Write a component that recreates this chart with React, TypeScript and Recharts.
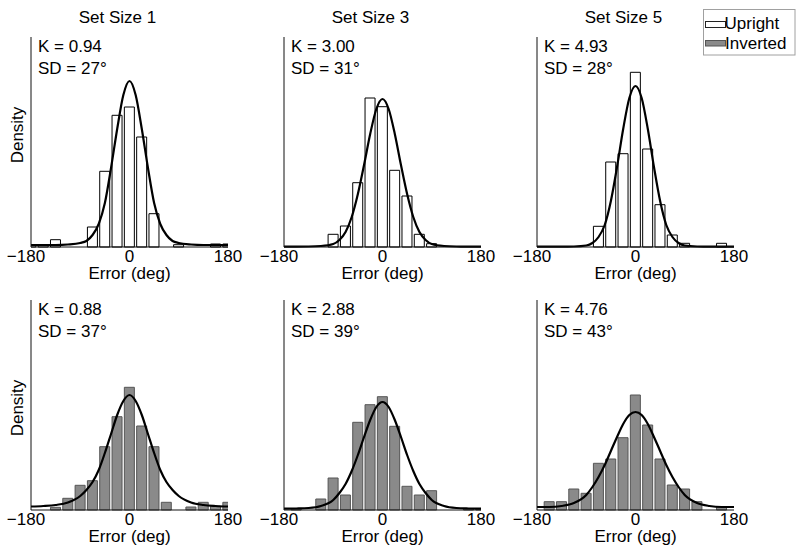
import React from 'react';
import { ComposedChart, Bar, Line, XAxis, YAxis } from 'recharts';

// bin centres of the error histograms (deg)
const BIN_CENTERS = [-180, -157.5, -135, -112.5, -90, -67.5, -45, -22.5, 0, 22.5, 45, 67.5, 90, 112.5, 135, 157.5, 180];

// histogram densities
const UPRIGHT_SS1 = [0.00015, 0.00015, 0.00073, 0, 0, 0.002, 0.00757, 0.01317, 0.014, 0.011, 0.00333, 0, 0.00023, 0, 0, 0.0003, 0.0003];
const UPRIGHT_SS3 = [0, 0, 0, 0, 0.00127, 0.0021, 0.00643, 0.0149, 0.01403, 0.00767, 0.0051, 0.00127, 0.00033, 0, 0, 0, 0];
const UPRIGHT_SS5 = [0, 0, 0, 0, 0, 0.00207, 0.0085, 0.00933, 0.01747, 0.0098, 0.00423, 0.0012, 0.00037, 0, 0, 0.00037, 0];
const INVERTED_SS1 = [0, 0, 0.00027, 0.00117, 0.00247, 0.00293, 0.00633, 0.00933, 0.01227, 0.0084, 0.00633, 0.00077, 0, 0.0003, 0.00077, 0.0004, 0.00077];
const INVERTED_SS3 = [0, 0.00015, 0, 0.0011, 0.0032, 0.0015, 0.00877, 0.01053, 0.01133, 0.00837, 0.00237, 0.0015, 0.00193, 0, 0, 0.00015, 0.00015];
const INVERTED_SS5 = [0, 0.00083, 0.00083, 0.0021, 0.00167, 0.00467, 0.0051, 0.00723, 0.0115, 0.0085, 0.0051, 0.0025, 0.0021, 0.00083, 0, 0.00033, 0];

// fitted model curves, sampled from the figure
const FIT_X = [-180, -157.5, -135, -112.5, -90, -78.75, -67.5, -56.25, -45, -33.75, -22.5, -11.25, 0, 11.25, 22.5, 33.75, 45, 56.25, 67.5, 78.75, 90, 112.5, 135, 157.5, 180];
const FIT_UPRIGHT_SS1 = [0.0002, 0.0002, 0.0002, 0.00025, 0.0004, 0.0006, 0.0012, 0.0023, 0.0044, 0.0079, 0.0118, 0.0152, 0.0166, 0.0152, 0.0118, 0.0079, 0.0044, 0.0023, 0.0012, 0.0006, 0.0004, 0.00025, 0.0002, 0.0002, 0.0002];
const FIT_UPRIGHT_SS3 = [0.00004, 0.00004, 0.00005, 0.0001, 0.0003, 0.0007, 0.0015, 0.003, 0.0053, 0.0082, 0.0113, 0.0138, 0.0148, 0.0138, 0.0113, 0.0082, 0.0053, 0.003, 0.0015, 0.0007, 0.0003, 0.0001, 0.00005, 0.00004, 0.00004];
const FIT_UPRIGHT_SS5 = [0.00003, 0.00003, 0.00003, 0.00005, 0.00015, 0.0004, 0.001, 0.0022, 0.0046, 0.008, 0.0118, 0.0149, 0.0161, 0.0149, 0.0118, 0.008, 0.0046, 0.0022, 0.001, 0.0004, 0.00015, 0.00005, 0.00003, 0.00003, 0.00003];
const FIT_INVERTED_SS1 = [0.00035, 0.0004, 0.0005, 0.00075, 0.0014, 0.002, 0.0028, 0.004, 0.0057, 0.0076, 0.0095, 0.0109, 0.0115, 0.0109, 0.0095, 0.0076, 0.0057, 0.004, 0.0028, 0.002, 0.0014, 0.00075, 0.0005, 0.0004, 0.00035];
const FIT_INVERTED_SS3 = [0.00013, 0.00015, 0.0002, 0.0004, 0.001, 0.0017, 0.0026, 0.0039, 0.0055, 0.0073, 0.009, 0.0103, 0.0108, 0.0103, 0.009, 0.0073, 0.0055, 0.0039, 0.0026, 0.0017, 0.001, 0.0004, 0.0002, 0.00015, 0.00013];
const FIT_INVERTED_SS5 = [0.0003, 0.0003, 0.0004, 0.0007, 0.0015, 0.0023, 0.0033, 0.0045, 0.0059, 0.0073, 0.0086, 0.0095, 0.0098, 0.0095, 0.0086, 0.0073, 0.0059, 0.0045, 0.0033, 0.0023, 0.0015, 0.0007, 0.0004, 0.0003, 0.0003];

const X_TICKS = [-180, 0, 180];
const SET_SIZES = ['Set Size 1', 'Set Size 3', 'Set Size 5'];
const K_VALUES = ['0.94', '3.00', '4.93', '0.88', '2.88', '4.76'];
const SD_VALUES = [27, 31, 28, 37, 39, 43];

const FONT = "'Liberation Sans', Arial, Helvetica, sans-serif";
const COL_LEFT = [1, 254, 507];
const ROW_TOP = [37, 300];
const PLOT_W = 197;
const PLOT_H = 210;
const Y_AXIS_W = 30;

const UPRIGHT_STYLE = { fill: '#ffffff', stroke: '#000000' };
const INVERTED_STYLE = { fill: '#8a8a8a', stroke: '#555555' };

const panels = [
  { bars: UPRIGHT_SS1, fit: FIT_UPRIGHT_SS1, row: 0, col: 0, style: UPRIGHT_STYLE },
  { bars: UPRIGHT_SS3, fit: FIT_UPRIGHT_SS3, row: 0, col: 1, style: UPRIGHT_STYLE },
  { bars: UPRIGHT_SS5, fit: FIT_UPRIGHT_SS5, row: 0, col: 2, style: UPRIGHT_STYLE },
  { bars: INVERTED_SS1, fit: FIT_INVERTED_SS1, row: 1, col: 0, style: INVERTED_STYLE },
  { bars: INVERTED_SS3, fit: FIT_INVERTED_SS3, row: 1, col: 1, style: INVERTED_STYLE },
  { bars: INVERTED_SS5, fit: FIT_INVERTED_SS5, row: 1, col: 2, style: INVERTED_STYLE },
];

const renderErrorTick = (props: any) => {
  const { x, y, payload } = props;
  const v = payload.value;
  // the minus hangs left of the tick, digits stay centred
  return (
    <text x={x} y={y} dx={v < 0 ? -5 : 0} dy={12} textAnchor="middle" fill="#000" fontSize={17}>
      {v < 0 ? `\u2212${Math.abs(v)}` : v}
    </text>
  );
};

const DensityLabel = ({ viewBox, shift }: any) => {
  const cx = viewBox.x + 16;
  const cy = viewBox.y + viewBox.height / 2 + shift;
  return (
    <text x={cx} y={cy} dy="0.355em" textAnchor="middle" fill="#000" fontSize={17}
      transform={`rotate(-90, ${cx}, ${cy})`}>
      Density
    </text>
  );
};

const Panel = ({ bars, fit, row, col, style }: any) => {
  const binData = BIN_CENTERS.map((x, i) => ({ x, density: bars[i] }));
  const fitData = FIT_X.map((x, i) => ({ x, density: fit[i] }));
  return (
    <div style={{ position: 'absolute', left: COL_LEFT[col], top: ROW_TOP[row] }}>
      <ComposedChart
        width={Y_AXIS_W + PLOT_W + 20}
        height={PLOT_H + 32 + 8}
        data={binData}
        margin={{ top: 0, right: 20, bottom: 8, left: 0 }}
      >
        <XAxis
          dataKey="x"
          type="number"
          domain={[-180, 180]}
          ticks={X_TICKS}
          allowDataOverflow
          tickLine={false}
          tickSize={0}
          tickMargin={3}
          tick={renderErrorTick}
          height={32}
          axisLine={{ stroke: '#111' }}
          label={{ value: 'Error (deg)', position: 'insideBottom', offset: 0.5, fill: '#000', fontSize: 17 }}
        />
        <XAxis xAxisId="fit" dataKey="x" type="number" domain={[-180, 180]} hide />
        <YAxis
          type="number"
          domain={[0, 0.021]}
          width={Y_AXIS_W}
          tick={false}
          tickLine={false}
          axisLine={{ stroke: '#111' }}
          label={col === 0 ? <DensityLabel shift={row === 0 ? -7 : 3} /> : undefined}
        />
        <Bar dataKey="density" barSize={10} fill={style.fill} stroke={style.stroke} strokeWidth={1} isAnimationActive={false} />
        <Line
          data={fitData}
          xAxisId="fit"
          dataKey="density"
          type="monotone"
          stroke="#000"
          strokeWidth={2.2}
          dot={false}
          activeDot={false}
          isAnimationActive={false}
        />
      </ComposedChart>
    </div>
  );
};

export default function App() {
  return (
    <div style={{ position: 'absolute', left: 0, top: 0, width: 800, height: 557, background: '#fff', fontFamily: FONT, fontSize: 17 }}>
      {panels.map((p, i) => (
        <Panel key={i} {...p} />
      ))}
      <svg width={800} height={557} style={{ position: 'absolute', left: 0, top: 0, pointerEvents: 'none' }}>
        {SET_SIZES.map((t, c) => (
          <text key={t} x={COL_LEFT[c] + Y_AXIS_W + PLOT_W / 2 - 12} y={23.3} textAnchor="middle" fill="#000" fontSize={17}>
            {t}
          </text>
        ))}
        {panels.map((p, i) => {
          const x = COL_LEFT[p.col] + Y_AXIS_W + 7;
          const y = ROW_TOP[p.row];
          return (
            <g key={i}>
              <text x={x} y={y + 15} fill="#000" fontSize={17}>{`K = ${K_VALUES[i]}`}</text>
              <text x={x} y={y + 36.5} fill="#000" fontSize={17}>{`SD = ${SD_VALUES[i]}\u00b0`}</text>
            </g>
          );
        })}
        <g>
          <rect x={703.5} y={9.5} width={91.5} height={45.5} fill="#fff" stroke="#a0a0a0" />
          <rect x={705.5} y={21.5} width={20} height={6} fill={UPRIGHT_STYLE.fill} stroke="#222" />
          <text x={724.5} y={29.3} fill="#000" fontSize={17}>Upright</text>
          <rect x={705.5} y={40.5} width={20} height={5.5} fill={INVERTED_STYLE.fill} stroke={INVERTED_STYLE.stroke} />
          <text x={725} y={49.3} fill="#000" fontSize={17}>Inverted</text>
        </g>
      </svg>
    </div>
  );
}
